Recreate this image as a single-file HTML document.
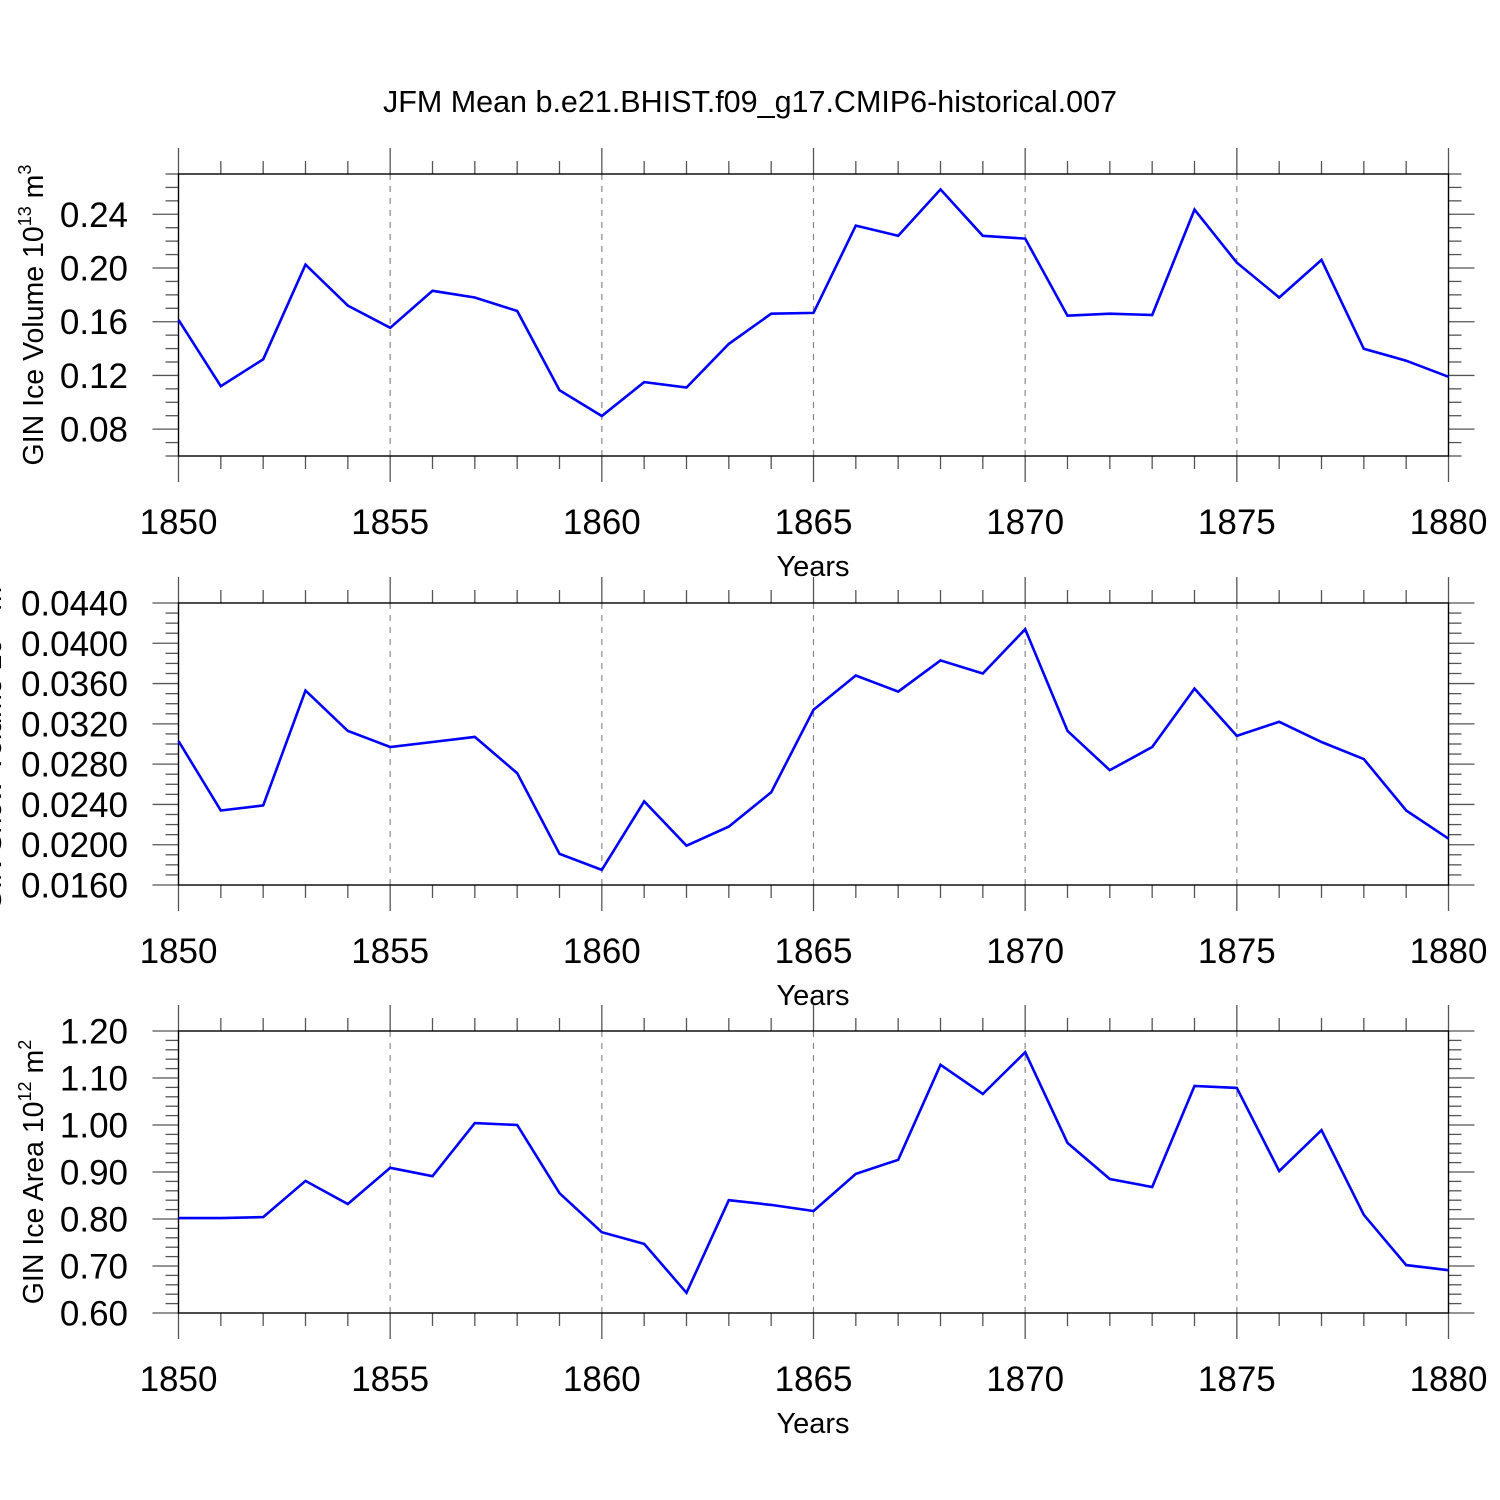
<!DOCTYPE html>
<html><head><meta charset="utf-8"><style>
html,body{margin:0;padding:0;background:#fff;}
svg{display:block;font-family:"Liberation Sans",sans-serif;}
</style></head><body>
<svg id="chart" width="1500" height="1500" viewBox="0 0 1500 1500" xmlns="http://www.w3.org/2000/svg">
<rect width="1500" height="1500" fill="#fff"/>
<text x="750" y="112" font-size="30.5" text-anchor="middle">JFM Mean b.e21.BHIST.f09_g17.CMIP6-historical.007</text>
</svg>
<script>
const years = [1850,1851,1852,1853,1854,1855,1856,1857,1858,1859,1860,1861,1862,1863,1864,1865,1866,1867,1868,1869,1870,1871,1872,1873,1874,1875,1876,1877,1878,1879,1880];
const iceVolume = [0.1614,0.112,0.132,0.2025,0.172,0.1555,0.183,0.178,0.168,0.109,0.0898,0.115,0.111,0.1435,0.166,0.1666,0.2316,0.224,0.2585,0.224,0.2219,0.1645,0.166,0.165,0.2435,0.204,0.178,0.206,0.1398,0.131,0.119];
const snowVolume = [0.0303,0.0234,0.0239,0.0353,0.0313,0.0297,0.0302,0.0307,0.0271,0.0191,0.0175,0.0243,0.0199,0.0218,0.0252,0.0334,0.0368,0.0352,0.0383,0.0370,0.0414,0.0313,0.0274,0.0297,0.0355,0.0308,0.0322,0.0302,0.0285,0.0234,0.0206];
const iceArea = [0.802,0.802,0.804,0.881,0.832,0.909,0.891,1.004,1.0,0.855,0.772,0.747,0.643,0.840,0.830,0.817,0.896,0.926,1.128,1.066,1.155,0.962,0.885,0.868,1.083,1.079,0.902,0.989,0.809,0.702,0.691];
const xTickLabels = ["1850","1855","1860","1865","1870","1875","1880"];
const volTicks = ["0.08","0.12","0.16","0.20","0.24"];
const snowTicks = ["0.0160","0.0200","0.0240","0.0280","0.0320","0.0360","0.0400","0.0440"];
const areaTicks = ["0.60","0.70","0.80","0.90","1.00","1.10","1.20"];

const NS = "http://www.w3.org/2000/svg";
const svg = document.getElementById('chart');
function mk(tag, attrs, parent){
  const e = document.createElementNS(NS, tag);
  for (const k in attrs) e.setAttribute(k, attrs[k]);
  (parent||svg).appendChild(e);
  return e;
}
const X0 = 178.5, X1 = 1448.5;
const xMin = 1850, xMax = 1880;
function xScale(v){ return X0 + (v - xMin) / (xMax - xMin) * (X1 - X0); }

const panels = [
  {name:'ice-volume', top:174, bot:456, ymin:0.06, ymax:0.27, minor:0.01, ticks:volTicks, data:iceVolume, title:['GIN Ice Volume 10','13',' m','3'], titleX:43},
  {name:'snow-volume', top:603, bot:885, ymin:0.016, ymax:0.044, minor:0.001, ticks:snowTicks, data:snowVolume, title:['GIN Snow Volume 10','13',' m','3'], titleX:1},
  {name:'ice-area', top:1031, bot:1313, ymin:0.6, ymax:1.2, minor:0.02, ticks:areaTicks, data:iceArea, title:['GIN Ice Area 10','12',' m','2'], titleX:43}
];

panels.forEach(p => {
  const g = mk('g', {});
  
  
  const yScale = v => p.bot - (v - p.ymin) / (p.ymax - p.ymin) * (p.bot - p.top);
  for (let i = 1; i < xTickLabels.length - 1; i++) {
    const x = xScale(+xTickLabels[i]);
    const l = mk('line', {x1:x, x2:x, y1:p.top, y2:p.bot, stroke:'#888', 'stroke-width':1.2, 'stroke-dasharray':'6,6'}, g);
    
    
  }
  for (let yr = xMin; yr <= xMax; yr++) {
    const x = xScale(yr);
    const len = (yr % 5 === 0) ? 26 : 13;
    mk('line', {x1:x, x2:x, y1:p.top - len, y2:p.top, stroke:'#555', 'stroke-width':1.3}, g);
    mk('line', {x1:x, x2:x, y1:p.bot, y2:p.bot + len, stroke:'#555', 'stroke-width':1.3}, g);
  }
  const nMinor = Math.round((p.ymax - p.ymin) / p.minor);
  for (let i = 0; i <= nMinor; i++) {
    const v = p.ymin + i * p.minor;
    const y = yScale(v);
    const isMajor = p.ticks.some(t => Math.abs(+t - v) < p.minor / 10);
    const len = isMajor ? 26 : 13;
    mk('line', {x1:X0 - len, x2:X0, y1:y, y2:y, stroke:'#555', 'stroke-width':1.3}, g);
    mk('line', {x1:X1, x2:X1 + len, y1:y, y2:y, stroke:'#555', 'stroke-width':1.3}, g);
  }
  p.ticks.forEach(t => {
    const tx = mk('text', {x:128, y:yScale(+t) + 12.5, 'font-size':35, 'text-anchor':'end'}, g);
    
    
    tx.textContent = t;
  });
  const fr = mk('rect', {x:X0, y:p.top, width:X1 - X0, height:p.bot - p.top, fill:'none', stroke:'#000', 'stroke-width':1.4}, g);
  
  
  xTickLabels.forEach(t => {
    const tx = mk('text', {x:xScale(+t), y:p.bot + 78, 'font-size':35, 'text-anchor':'middle'}, g);
    
    
    tx.textContent = t;
  });
  const xt = mk('text', {x:813, y:p.bot + 120, 'font-size':29, 'text-anchor':'middle'}, g);
  
  
  xt.textContent = 'Years';
  const cy = (p.top + p.bot) / 2;
  const yt = mk('text', {x:0, y:0, 'font-size':28.5, 'text-anchor':'middle', transform:'translate(' + p.titleX + ',' + cy + ') rotate(-90)'}, g);
  
  
  const t1 = mk('tspan', {}, yt); t1.textContent = p.title[0];
  const t2 = mk('tspan', {dy:-12, 'font-size':18}, yt); t2.textContent = p.title[1];
  const t3 = mk('tspan', {dy:12}, yt); t3.textContent = p.title[2];
  const t4 = mk('tspan', {dy:-12, 'font-size':18}, yt); t4.textContent = p.title[3];
  const pts = p.data.map((v, i) => xScale(years[i]).toFixed(1) + ',' + yScale(v).toFixed(1)).join(' ');
  const pl = mk('polyline', {points:pts, fill:'none', stroke:'#0000ff', 'stroke-width':2.6, 'stroke-linejoin':'miter'}, g);
  
  
});
</script>
</body></html>
